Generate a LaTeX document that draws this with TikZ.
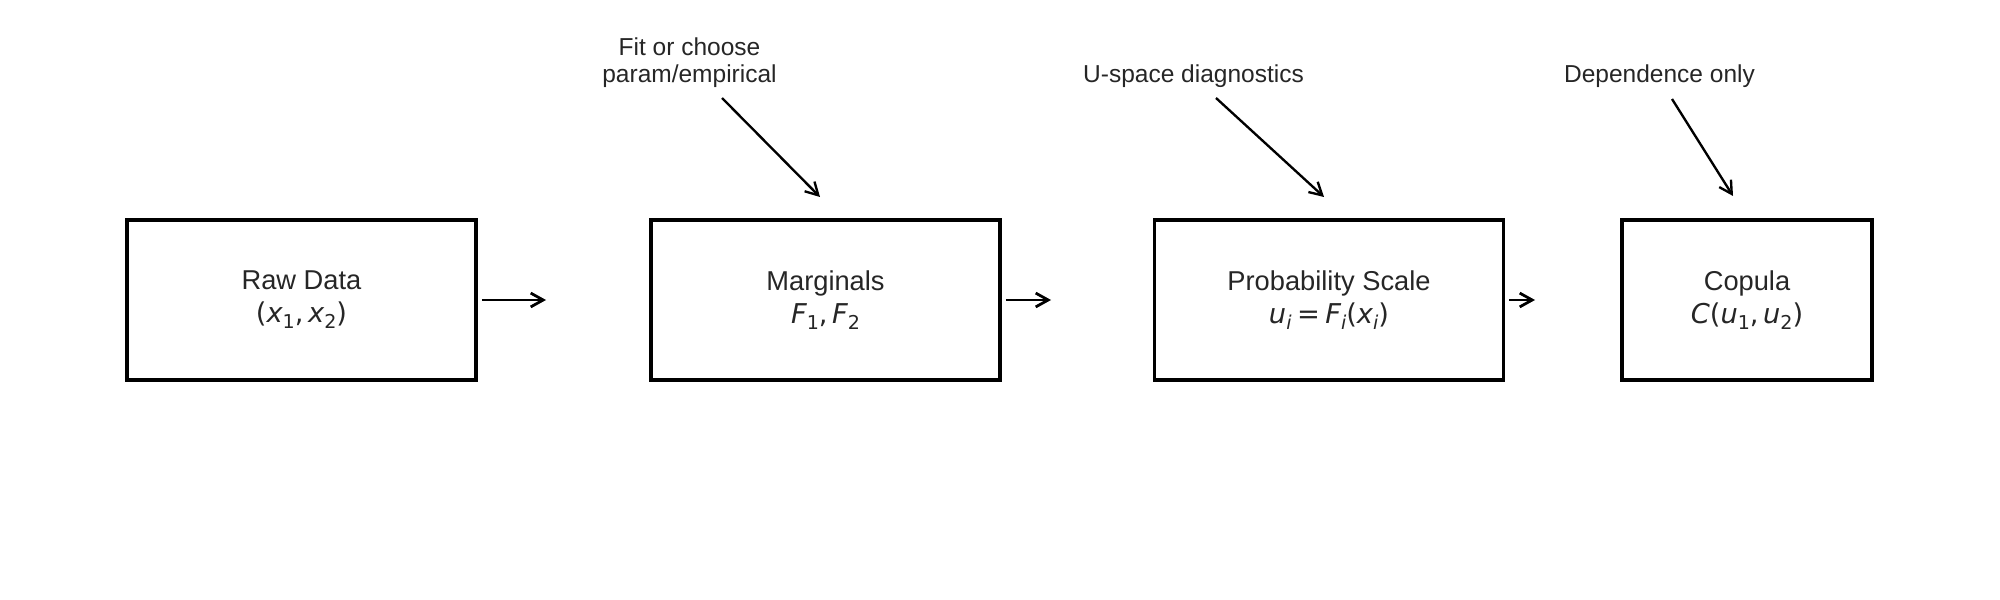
\documentclass[tikz,border=0pt]{standalone}
\usepackage{fontspec}
\usepackage{graphicx}
\setmainfont{Liberation Sans}
\newfontfamily\dvsans{DejaVu Sans}
\usetikzlibrary{arrows.meta, positioning}

\definecolor{txtgray}{HTML}{262626}

% math-like pieces set in DejaVu Sans
\newcommand{\mvar}[1]{{\dvsans\itshape #1}}
\newcommand{\mup}[1]{{\dvsans #1}}
\newcommand{\msub}[1]{\raisebox{-0.22em}{\dvsans\scalebox{0.7}{#1}}}

\begin{document}
\begin{tikzpicture}[x=0.01in, y=-0.01in,
	stage/.style={draw=black, line width=2.4pt,
		minimum width=3.49in, minimum height=1.6in,
		align=center, text=txtgray, inner sep=0pt,
		font=\fontsize{19.7}{23.8}\selectfont},
	note/.style={text=txtgray, align=center, inner sep=0pt,
		font=\fontsize{17.7}{20.2}\selectfont},
	flow/.style={-{Straight Barb[length=9pt,width=10pt]}, line width=2pt,
		shorten <=3pt},
	hint/.style={-{Straight Barb[length=9pt,width=10pt]}, line width=1.7pt}]

\useasboundingbox (0,0) rectangle (2000,600);

% The four stages
\node[stage] (raw) at (301.5,300)
	{Raw Data\\ \mup{(}\mvar{x}\msub{1}\mup{,\,}\mvar{x}\msub{2}\mup{)}};

\node[stage] (marg) at (825.5,300)
	{Marginals\\ \mvar{F}\msub{1}\mup{,\,}\mvar{F}\msub{2}};

\node[stage] (prob) at (1329,300)
	{Probability Scale\\ \mvar{u}\msub{\itshape i}\mup{\kern0.2em=\kern0.2em}\mvar{F}\msub{\itshape i}\mup{(}\mvar{x}\msub{\itshape i}\mup{)}};

\node[stage, minimum width=2.5in] (cop) at (1747,300)
	{Copula\\ \mvar{C}\mup{(}\mvar{u}\msub{1}\mup{,\,}\mvar{u}\msub{2}\mup{)}};

% Flow between stages
\coordinate (rawtip) at (546,300);
\coordinate (margtip) at (1051,300);
\coordinate (probtip) at (1535,300);

\draw[flow] (raw) -- (rawtip);
\draw[flow] (marg) -- (margtip);
\draw[flow] (prob) -- (probtip);

% Notes above the stages
\node[note, anchor=base] (fitnote) at (689.5,83) {Fit or choose\\param/empirical};
\node[note, anchor=base] (unote) at (1193.5,83) {U-space diagnostics};
\node[note, anchor=base] (depnote) at (1659.5,83) {Dependence only};

\coordinate (fittail) at (722,98);
\coordinate (fittip) at (820,197);
\coordinate (utail) at (1216,98);
\coordinate (utip) at (1324,197);
\coordinate (deptail) at (1672,99);
\coordinate (deptip) at (1733,196);

\draw[hint] (fittail) -- (fittip);
\draw[hint] (utail) -- (utip);
\draw[hint] (deptail) -- (deptip);
\end{tikzpicture}
\end{document}
